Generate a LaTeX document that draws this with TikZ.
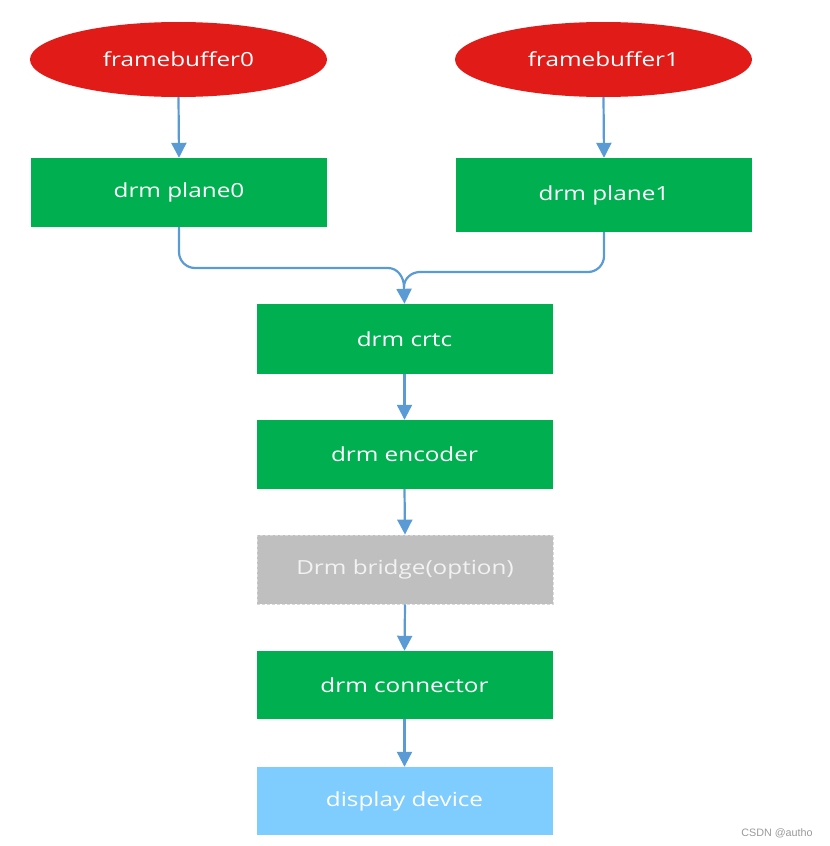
\documentclass[tikz,border=0pt]{standalone}
\usepackage{fontspec}
\setmainfont{Open Sans}
\newfontfamily\labelfont[FakeStretch=1.25]{Open Sans}
\newfontfamily\wmfont{Liberation Sans}
\usetikzlibrary{shapes.geometric,arrows.meta}
\definecolor{fbred}{HTML}{E11B17}
\definecolor{boxgreen}{HTML}{00B050}
\definecolor{arrowblue}{HTML}{5B9BD5}
\definecolor{bridgegray}{HTML}{BFBFBF}
\definecolor{bridgeline}{HTML}{D9D9D9}
\definecolor{bridgetext}{HTML}{F2F2F2}
\definecolor{devblue}{HTML}{7FCDFF}
\begin{document}
\begin{tikzpicture}[x=1bp,y=-1bp,
  lbl/.style={font=\labelfont\fontsize{19.5}{23}\selectfont},
  fbnode/.style={lbl,ellipse,fill=fbred,draw=none,minimum width=297bp,minimum height=75bp,inner sep=0pt,text=white},
  greenbox/.style={lbl,rectangle,fill=boxgreen,draw=none,minimum width=296bp,minimum height=70bp,inner sep=0pt,text=white},
  bridgebox/.style={lbl,rectangle,fill=bridgegray,draw=bridgeline,dash pattern=on 3bp off 2bp,line width=0.8bp,minimum width=296bp,minimum height=69bp,inner sep=0pt,text=bridgetext},
  devbox/.style={lbl,rectangle,fill=devblue,draw=none,minimum width=296bp,minimum height=68bp,inner sep=0pt,text=white},
  line/.style={draw=arrowblue,line width=2.2bp},
  conn/.style={line,-{Triangle[width=15bp,length=15bp]}},
  watermark/.style={text=gray!80,font=\wmfont\fontsize{10.8}{12}\selectfont,inner sep=0pt}
]
\useasboundingbox (0,0) rectangle (830,846);
\node[fbnode] (fb0) at (178.5,59.5) {framebuffer0};
\node[fbnode] (fb1) at (603.5,59.5) {framebuffer1};
\node[greenbox,minimum height=69bp] (p0) at (179,192.5) {drm plane0};
\node[greenbox,minimum height=74bp] (p1) at (604,195) {drm plane1};
\node[greenbox] (crtc) at (404.5,339) {drm crtc};
\node[greenbox,minimum height=69bp] (enc) at (404.5,454.5) {drm encoder};
\node[bridgebox] (br) at (405,569.5) {Drm bridge(option)};
\node[greenbox,minimum height=68bp] (con) at (404.5,685) {drm connector};
\node[devbox] (dev) at (404.5,801) {display device};
\node[watermark] (wm) at (777,833) {CSDN @autho};
\coordinate (ml) at (388,268);
\coordinate (mr) at (420,272);
\coordinate (mj) at (404,287);
\draw[conn] (fb0.south) -- (p0.north);
\draw[conn] (fb1.south) -- (p1.north);
\draw[line,rounded corners=16bp] (p0.south) |- (ml);
\draw[line,rounded corners=16bp] (p1.south) |- (mr);
\draw[line] (ml) to[out=0,in=90] (mj);
\draw[line] (mr) to[out=180,in=90] (mj);
\draw[conn] (mj) -- (crtc.north);
\draw[conn] (crtc.south) -- (enc.north);
\draw[conn] (enc.south) -- (br.north);
\draw[conn] (br.south) -- (con.north);
\draw[conn] (con.south) -- (dev.north);
\end{tikzpicture}
\end{document}
